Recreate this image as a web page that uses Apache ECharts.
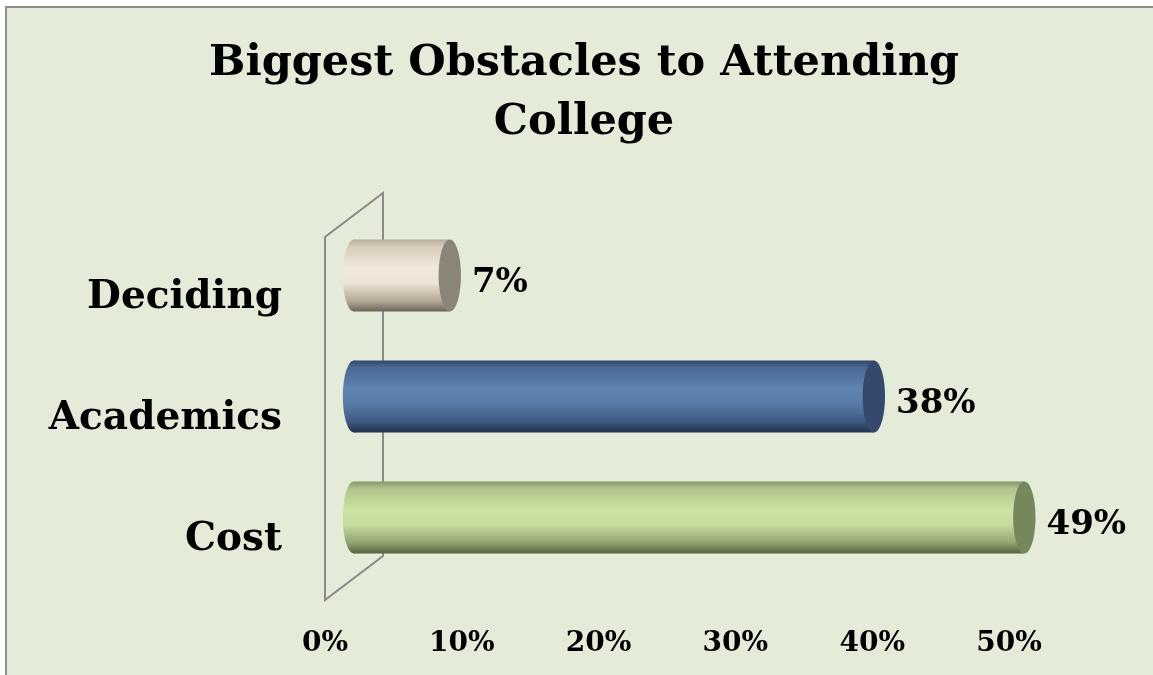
<!DOCTYPE html>
<html>
<head>
<meta charset="utf-8">
<title>Biggest Obstacles to Attending College</title>
<script src="https://cdn.jsdelivr.net/npm/echarts@6/dist/echarts.min.js"></script>
<style>
  html, body { margin: 0; padding: 0; background: #ffffff; }
  #chart { width: 1153px; height: 675px; }
</style>
</head>
<body>
<div id="chart"></div>
<script>
// Categories listed bottom-to-top (category axes grow upward)
const categories = ['Cost', 'Academics', 'Deciding'];
// Share of respondents naming each obstacle, in percent
const values = [49, 38, 7];
// Value axis range and step (percent)
const axisMin = 0;
const axisMax = 50;
const axisStep = 10;

// Cylinder palettes: body gradient stops (top to bottom) and end-cap colour
const bodyStops = [
  ['#879967', '#b0c48c', '#cde2a4', '#c6db9d', '#93a573', '#55633f'],
  ['#30486b', '#4a6a95', '#6083b0', '#5a7ca8', '#3d5981', '#21314a'],
  ['#b8af9e', '#d6ccbb', '#f3e9db', '#eee4d5', '#b3aa99', '#6c665a']
];
const capColors = ['#76875c', '#34496b', '#8b8577'];

const FONT = '"DejaVu Serif", "Liberation Serif", serif';
const chart = echarts.init(document.getElementById('chart'), null, { renderer: 'canvas' });

function gradient(stops) {
  const pos = [0, 0.1, 0.4, 0.6, 0.85, 1];
  return new echarts.graphic.LinearGradient(0, 0, 0, 1,
    stops.map((c, i) => ({ offset: pos[i], color: c })));
}

// Side wall of the 3D plot: front edge on the label plane (grid 1),
// back edge pushed up-right by twice the bar plane's depth offset
function renderWall(params, api) {
  const cs = params.coordSys;
  const dx = 29, dy = 22;
  const fx = cs.x, fTop = cs.y, fBot = cs.y + cs.height;
  const bx = fx + 2 * dx, bTop = fTop - 2 * dy, bBot = fBot - 2 * dy;
  return {
    type: 'polygon',
    shape: { points: [[fx, fBot], [fx, fTop], [bx, bTop], [bx, bBot]] },
    style: { fill: 'none', stroke: '#8a8a8a', lineWidth: 2 },
    silent: true
  };
}

// One cylinder per category: rounded left end, shaded body, flat right cap
function renderCylinder(params, api) {
  const v = api.value(0);
  const ci = api.value(1);
  const p0 = api.coord([axisMin, ci]);
  const p1 = api.coord([v, ci]);
  const band = api.size([0, 1])[1];
  const h = band * 0.595;
  const ry = h / 2;
  const rx = h * 0.155;
  const fill = gradient(bodyStops[ci]);
  return {
    type: 'group',
    children: [
      { type: 'ellipse', shape: { cx: p0[0], cy: p0[1], rx: rx, ry: ry }, style: { fill: fill } },
      { type: 'rect', shape: { x: p0[0], y: p0[1] - ry, width: p1[0] - p0[0], height: h }, style: { fill: fill } },
      { type: 'ellipse', shape: { cx: p1[0], cy: p1[1], rx: rx, ry: ry }, style: { fill: capColors[ci] } },
      {
        type: 'text',
        style: {
          text: v + '%',
          x: p1[0] + rx + 11,
          y: p1[1] + 8,
          align: 'left',
          verticalAlign: 'middle',
          fill: '#000',
          font: 'bold 34px ' + FONT
        }
      }
    ]
  };
}

const option = {
  backgroundColor: '#ffffff',
  animation: false,
  title: {
    text: 'Biggest Obstacles to Attending\nCollege',
    left: 584,
    top: 34,
    padding: 0,
    textAlign: 'center',
    textStyle: {
      fontFamily: FONT,
      fontWeight: 'bold',
      fontSize: 43,
      lineHeight: 59,
      color: '#000'
    }
  },
  graphic: [{
    type: 'rect',
    z: -10,
    shape: { x: 6, y: 7, width: 1170, height: 700 },
    style: { fill: '#e4ebd9', stroke: '#8e8e8e', lineWidth: 2 },
    silent: true
  }],
  grid: [
    { left: 354, top: 215, width: 684, height: 363 },
    { left: 325, top: 237, width: 684, height: 363 }
  ],
  xAxis: [
    { gridIndex: 0, type: 'value', min: axisMin, max: axisMax, interval: axisStep, show: false },
    {
      gridIndex: 1, type: 'value', min: axisMin, max: axisMax, interval: axisStep,
      axisLine: { show: false }, axisTick: { show: false }, splitLine: { show: false },
      axisLabel: {
        formatter: '{value}%', margin: 30, color: '#000',
        fontFamily: FONT, fontWeight: 'bold', fontSize: 28
      }
    }
  ],
  yAxis: [
    { gridIndex: 0, type: 'category', data: categories, show: false },
    {
      gridIndex: 1, type: 'category', data: categories,
      axisLine: { show: false }, axisTick: { show: false }, splitLine: { show: false },
      axisLabel: {
        margin: 43, color: '#000', padding: [14, 0, 0, 0],
        fontFamily: FONT, fontWeight: 'bold', fontSize: 39
      }
    }
  ],
  series: [
    {
      type: 'custom',
      name: 'wall',
      xAxisIndex: 1, yAxisIndex: 1,
      z: 1,
      silent: true,
      renderItem: renderWall,
      data: [[axisMin, 0]]
    },
    {
      type: 'custom',
      name: 'Obstacles',
      xAxisIndex: 0, yAxisIndex: 0,
      z: 2,
      renderItem: renderCylinder,
      encode: { x: 0, y: 1 },
      data: values.map((v, i) => [v, i])
    }
  ]
};

chart.setOption(option);
</script>
</body>
</html>
